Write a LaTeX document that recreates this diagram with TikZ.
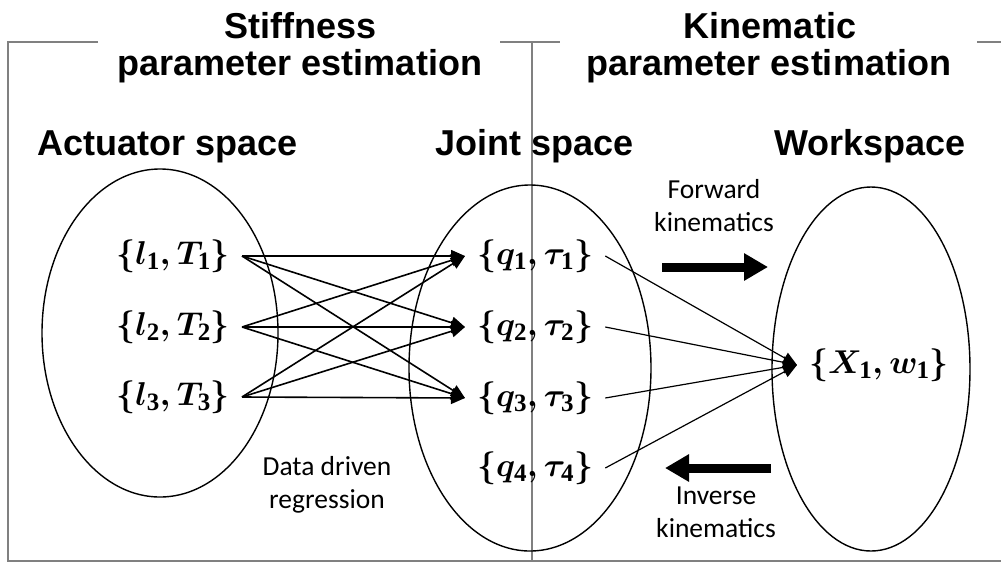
\RequirePackage{fix-cm}
\documentclass[tikz,border=0pt]{standalone}
\usepackage[no-math]{fontspec}
\setmainfont{Carlito}
\newfontfamily\headfont{Liberation Sans}
\newfontfamily\subfont{Liberation Serif}
\newcommand\sbx[1]{_{\mbox{\subfont\bfseries\fontsize{25}{25}\selectfont #1}}}
\usetikzlibrary{arrows.meta}
\tikzset{
  frame/.style={draw=black!50, line width=1.3pt},
  space/.style={draw, line width=1.4pt},
  head/.style={font=\headfont\bfseries\fontsize{36}{40}\selectfont, anchor=base, inner sep=0pt},
  lbl/.style={font=\fontsize{27.5}{33}\selectfont, align=center, inner sep=0pt},
  var/.style={font=\fontsize{33}{38}\selectfont\boldmath, inner xsep=12pt, inner ysep=2pt},
  link/.style={line width=1.6pt, -{Triangle[length=14pt,width=12pt]}},
  wlink/.style={line width=1.2pt, -{Triangle[length=14pt,width=12pt]}},
  big/.style={line width=9pt, -{Triangle[length=24pt,width=26pt]}}
}
\begin{document}
\begin{tikzpicture}[x=1pt,y=-1pt]
\useasboundingbox (0,0) rectangle (1001,563);
% frame
\draw[frame] (98,42) -- (8,42) -- (8,561) -- (1001,561);
\draw[frame] (500,42) -- (560,42);
\draw[frame] (532,42) -- (532,561);
\draw[frame] (977,42) -- (1001,42);
% headings
\node[head] (h1) at (301,38) {Stiffness};
\node[head] (h2) at (300,75) {parameter estimation};
\node[head] (h3) at (770,38) {Kinematic};
\node[head] (h4) at (769,75) {parameter estimation};
\node[head] (s1) at (168,155) {Actuator space};
\node[head] (s2) at (535,155) {Joint space};
\node[head] (s3) at (870,155) {Workspace};
% ellipses
\draw[space] (160,333) ellipse [x radius=118, y radius=164];
\draw[space] (530,368) ellipse [x radius=121, y radius=183];
\draw[space] (871,369) ellipse [x radius=99, y radius=182];
% variables
\node[var, anchor=east] (l1) at (242,256) {$\{l\sbx{1},T\sbx{1}\}$};
\node[var, anchor=east] (l2) at (242,327) {$\{l\sbx{2},T\sbx{2}\}$};
\node[var, anchor=east] (l3) at (242,397) {$\{l\sbx{3},T\sbx{3}\}$};
\node[var, anchor=west] (q1) at (465,256) {$\{q\sbx{1},\tau\sbx{1}\}$};
\node[var, anchor=west] (q2) at (465,327) {$\{q\sbx{2},\tau\sbx{2}\}$};
\node[var, anchor=west] (q3) at (465,398) {$\{q\sbx{3},\tau\sbx{3}\}$};
\node[var, anchor=west] (q4) at (465,468) {$\{q\sbx{4},\tau\sbx{4}\}$};
\node[var, anchor=west] (x1) at (797,365) {$\{X\sbx{1},w\sbx{1}\}$};
% links
\foreach \a in {l1,l2,l3}
  \foreach \b in {q1,q2,q3}
    \draw[link] (\a.east) -- (\b.west);
\foreach \a in {q1,q2,q3,q4}
  \draw[wlink] (\a.east) -- (x1.west);
% big arrows
\coordinate (f0) at (662,267);
\coordinate (f1) at (768,267);
\coordinate (i0) at (771,468);
\coordinate (i1) at (665,468);
\draw[big] (f0) -- (f1);
\draw[big] (i0) -- (i1);
% labels
\node[lbl] (fk) at (714,206) {Forward\\kinematics};
\node[lbl] (ik) at (716,512) {Inverse\\kinematics};
\node[lbl] (dd) at (327,485) {Data driven\\regression};
\end{tikzpicture}
\end{document}
